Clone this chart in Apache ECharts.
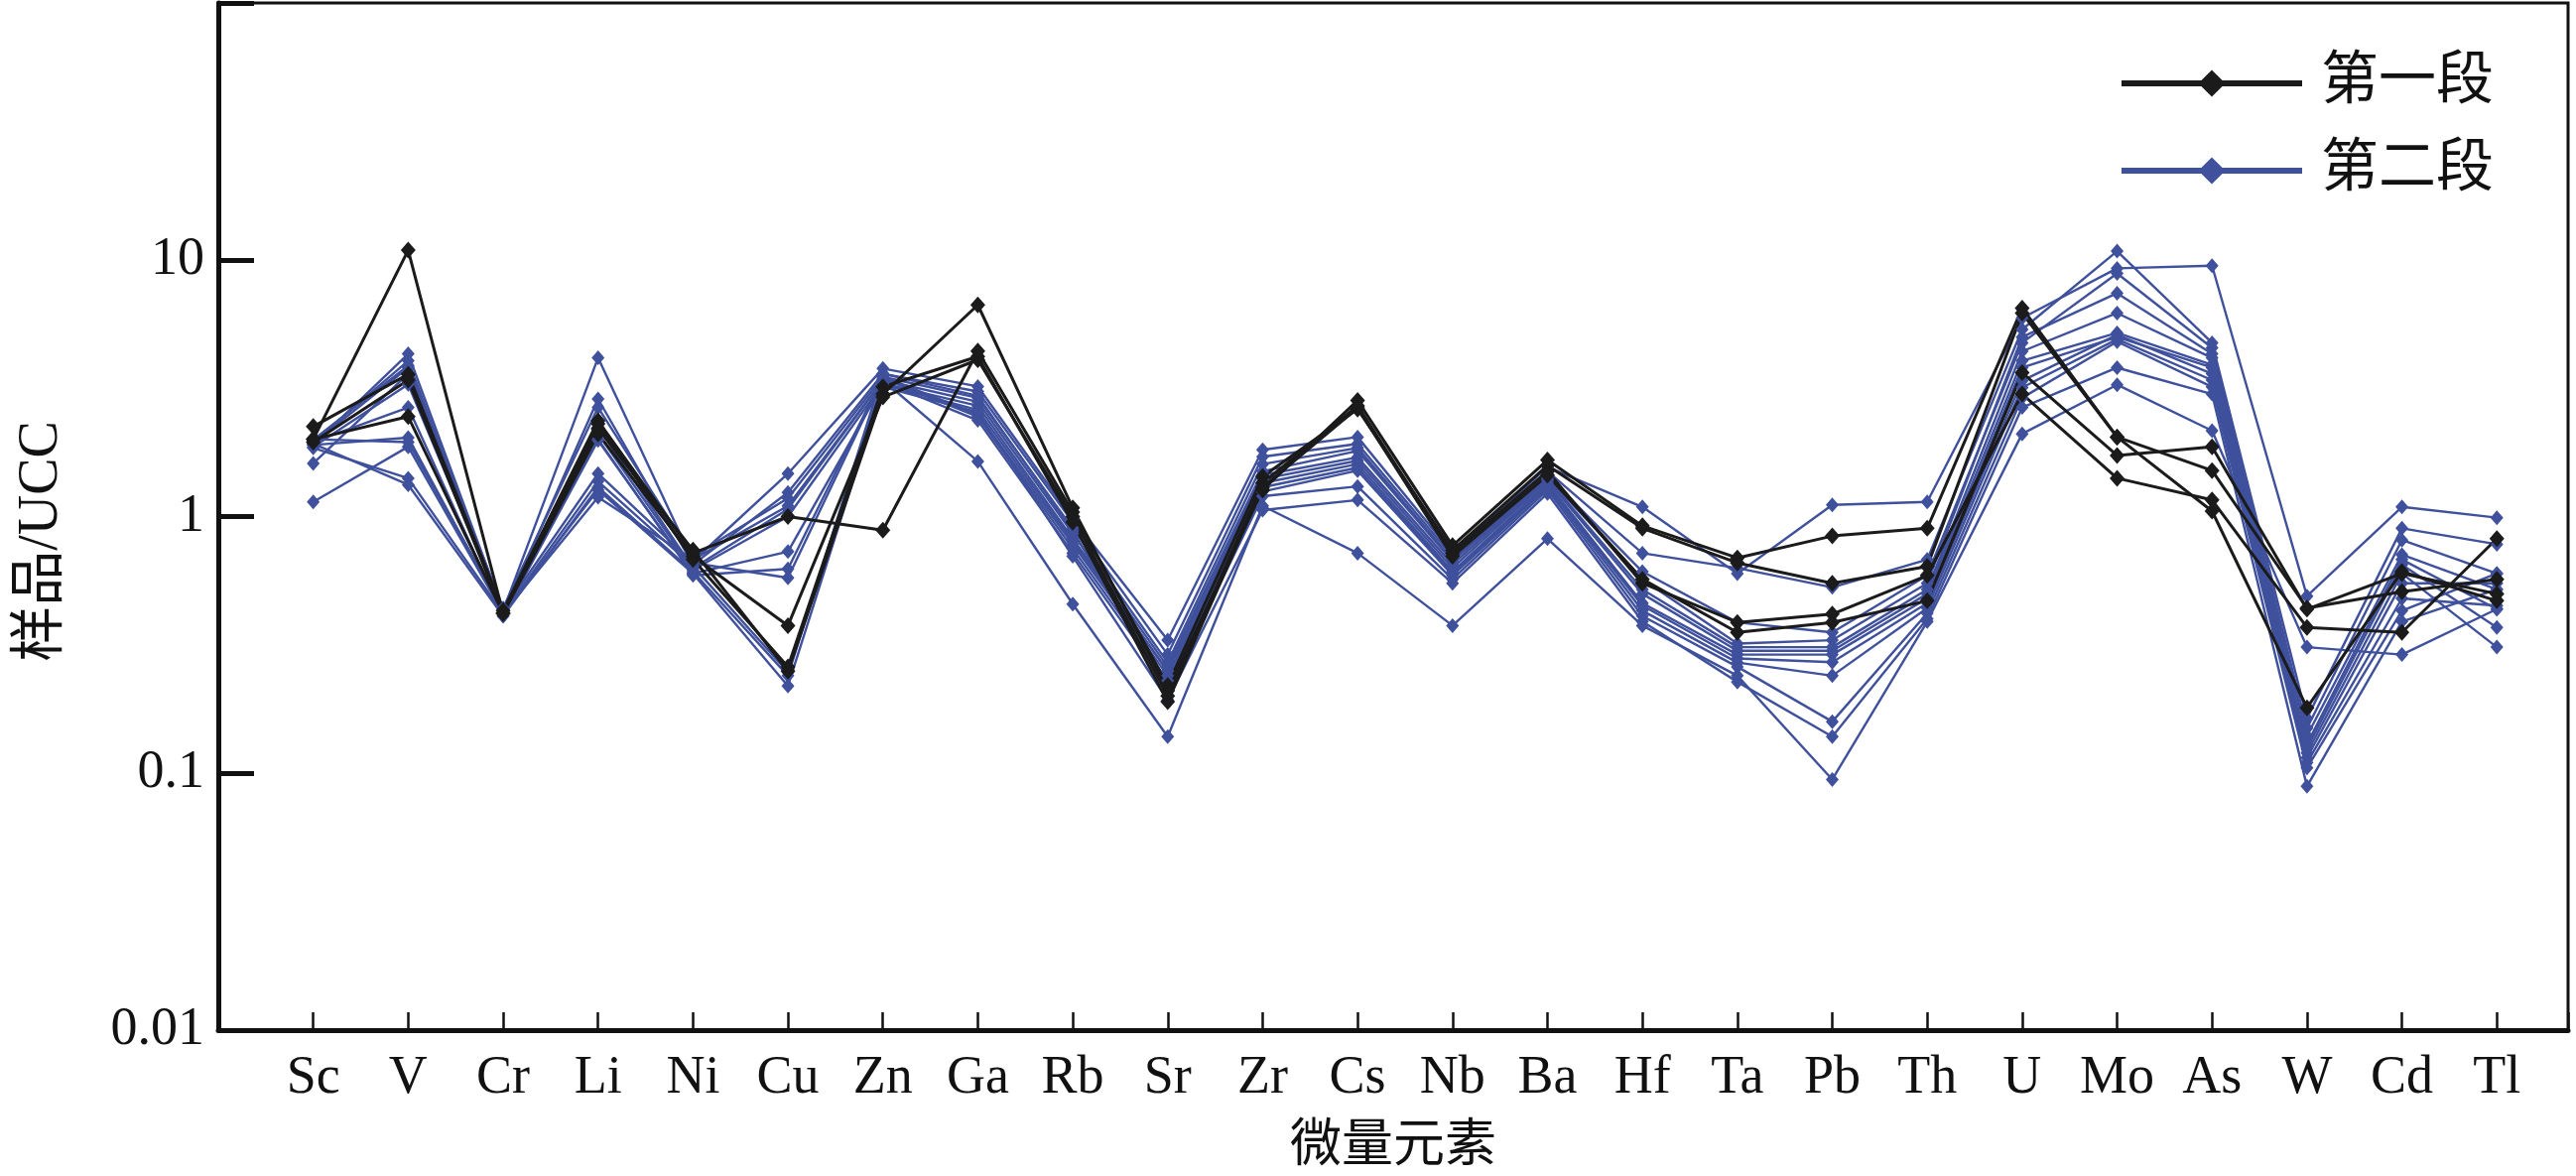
<!DOCTYPE html>
<html>
<head>
<meta charset="utf-8">
<title>微量元素 UCC 标准化</title>
<script src="https://cdn.jsdelivr.net/npm/echarts@6/dist/echarts.min.js"></script>
<style>
  html, body { margin: 0; padding: 0; background: #fff; }
  #chart { width: 2596px; height: 1185px; }
</style>
</head>
<body>
<div id="chart"></div>
<script>
// 元素（横轴）
var elements = ['Sc', 'V', 'Cr', 'Li', 'Ni', 'Cu', 'Zn', 'Ga', 'Rb', 'Sr', 'Zr', 'Cs',
                'Nb', 'Ba', 'Hf', 'Ta', 'Pb', 'Th', 'U', 'Mo', 'As', 'W', 'Cd', 'Tl'];
// 纵轴刻度
var yTicks = [0.01, 0.1, 1, 10];

// 第一段 样品/UCC
var seg1A = [2.0, 10.9, 0.42, 2.2, 0.74, 0.25, 3.0, 6.67, 1.08, 0.21, 1.27, 2.83, 0.77, 1.66, 0.92, 0.69, 0.84, 0.90, 6.48, 2.04, 1.51, 0.44, 0.51, 0.57];
var seg1B = [2.24, 3.58, 0.43, 2.36, 0.72, 1.0, 0.885, 4.41, 1.04, 0.22, 1.43, 2.62, 0.74, 1.58, 0.90, 0.66, 0.55, 0.64, 6.2, 2.04, 1.05, 0.18, 0.61, 0.47];
var seg1C = [2.0, 2.45, 0.42, 2.1, 0.70, 0.376, 2.92, 4.08, 1.0, 0.20, 1.35, 2.7, 0.72, 1.5, 0.55, 0.387, 0.417, 0.59, 3.0, 1.41, 1.16, 0.37, 0.354, 0.82];
var seg1D = [1.95, 3.4, 0.42, 2.3, 0.68, 0.26, 3.2, 4.2, 0.95, 0.19, 1.3, 2.65, 0.70, 1.45, 0.57, 0.354, 0.387, 0.47, 3.63, 1.73, 1.87, 0.436, 0.6, 0.5];

// 第二段 样品/UCC
var seg2A = [1.9, 4.3, 0.43, 4.15, 0.67, 1.47, 3.77, 3.21, 0.98, 0.33, 1.82, 2.04, 0.72, 1.56, 1.09, 0.60, 1.11, 1.14, 5.93, 9.26, 9.48, 0.49, 1.09, 0.99];
var seg2B = [1.95, 4.04, 0.42, 2.87, 0.65, 1.24, 3.6, 3.07, 0.95, 0.29, 1.71, 1.92, 0.70, 1.5, 0.72, 0.63, 0.53, 0.68, 5.35, 10.8, 4.75, 0.164, 0.90, 0.78];
var seg2C = [1.99, 3.87, 0.44, 2.66, 0.70, 1.18, 3.5, 2.9, 0.9, 0.27, 1.6, 1.85, 0.68, 1.45, 0.61, 0.387, 0.354, 0.59, 4.75, 8.85, 4.54, 0.15, 0.81, 0.60];
var seg2D = [1.93, 3.8, 0.42, 2.23, 0.63, 1.07, 3.4, 2.8, 0.86, 0.26, 1.5, 1.8, 0.67, 1.42, 0.57, 0.32, 0.33, 0.55, 5.0, 7.41, 4.3, 0.14, 0.71, 0.52];
var seg2E = [1.87, 3.27, 0.43, 2.1, 0.62, 1.0, 3.3, 2.7, 0.82, 0.25, 1.45, 1.7, 0.65, 1.4, 0.52, 0.31, 0.31, 0.52, 4.4, 6.2, 4.15, 0.13, 0.68, 0.436];
var seg2F = [1.95, 2.66, 0.41, 1.98, 0.60, 0.73, 3.27, 2.6, 0.8, 0.25, 1.4, 1.65, 0.63, 1.38, 0.5, 0.3, 0.3, 0.5, 4.04, 5.19, 3.9, 0.125, 0.65, 0.37];
var seg2G = [1.9, 2.03, 0.42, 2.0, 0.59, 0.625, 3.5, 2.5, 0.78, 0.24, 1.35, 1.6, 0.61, 1.35, 0.46, 0.29, 0.29, 0.48, 3.8, 5.0, 3.8, 0.12, 0.6, 0.31];
var seg2H = [2.0, 1.95, 0.43, 1.47, 0.66, 0.577, 3.45, 2.45, 0.75, 0.23, 1.3, 1.55, 0.6, 1.32, 0.45, 0.28, 0.271, 0.46, 3.38, 5.1, 3.6, 0.115, 0.55, 0.55];
var seg2I = [1.85, 1.41, 0.42, 1.37, 0.64, 0.248, 3.35, 2.37, 0.72, 0.22, 1.25, 1.51, 0.59, 1.3, 0.43, 0.27, 0.24, 0.44, 3.18, 4.9, 3.4, 0.11, 0.48, 0.45];
var seg2J = [1.92, 1.33, 0.41, 1.3, 0.61, 0.24, 3.6, 2.95, 0.88, 0.21, 1.2, 1.31, 0.57, 1.27, 0.41, 0.26, 0.159, 0.42, 2.9, 4.8, 3.2, 0.105, 0.43, 0.6];
var seg2K = [1.14, 1.87, 0.42, 1.27, 0.6, 0.219, 3.2, 2.55, 0.7, 0.193, 1.06, 1.16, 0.55, 1.23, 0.39, 0.227, 0.139, 0.4, 2.66, 3.8, 3.0, 0.089, 0.39, 0.52];
var seg2L = [1.61, 3.6, 0.42, 1.19, 0.68, 1.1, 3.4, 1.64, 0.456, 0.139, 1.1, 0.72, 0.376, 0.82, 0.376, 0.24, 0.0946, 0.39, 2.10, 3.26, 2.16, 0.31, 0.29, 0.436];

var seg1 = [seg1A, seg1B, seg1C, seg1D];
var seg2 = [seg2A, seg2B, seg2C, seg2D, seg2E, seg2F, seg2G, seg2H, seg2I, seg2J, seg2K, seg2L];

var black = '#1b1b1b';
var blue = '#3f509c';
var serif = '"Liberation Serif", "Times New Roman", "Noto Sans CJK SC", serif';

// 把数组转成 [序号, 值] 点对
function toPoints(arr) {
    return arr.map(function (v, i) { return [i + 1, v]; });
}

function makeSeries(name, arr, color, width, size) {
    return {
        name: name,
        type: 'line',
        data: toPoints(arr),
        symbol: 'diamond',
        symbolSize: size,
        showSymbol: true,
        lineStyle: { color: color, width: width },
        itemStyle: { color: color },
        emphasis: { disabled: true },
        animation: false
    };
}

var series = [];
seg2.forEach(function (arr) { series.push(makeSeries('第二段', arr, blue, 2.4, [13, 15])); });
seg1.forEach(function (arr) { series.push(makeSeries('第一段', arr, black, 3, [15, 17])); });

var chart = echarts.init(document.getElementById('chart'));
chart.setOption({
    backgroundColor: '#fff',
    animation: false,
    grid: {
        left: 220, right: 8, top: 3, bottom: 147,
        outerBoundsMode: 'none',
        show: true, borderColor: '#111', borderWidth: 3
    },
    legend: {
        data: ['第一段', '第二段'],
        orient: 'vertical',
        right: 78,
        top: 50,
        itemWidth: 182,
        itemHeight: 34,
        itemGap: 30,
        lineStyle: { width: 6 },
        textStyle: { fontFamily: serif, fontSize: 58, color: '#111', padding: [0, 0, 0, 14] }
    },
    xAxis: {
        type: 'value',
        min: 0,
        max: 24.75,
        interval: 1,
        name: '微量元素',
        nameLocation: 'middle',
        nameGap: 92,
        nameTextStyle: { fontFamily: serif, fontSize: 52, color: '#111' },
        axisLine: { onZero: false, lineStyle: { color: '#111', width: 5 } },
        axisTick: { inside: true, length: 18, lineStyle: { color: '#111', width: 2.5 } },
        axisLabel: {
            margin: 22,
            fontFamily: serif,
            fontSize: 54,
            color: '#111',
            formatter: function (v) {
                return (Number.isInteger(v) && v >= 1 && v <= elements.length) ? elements[v - 1] : '';
            }
        },
        splitLine: { show: false }
    },
    yAxis: {
        type: 'log',
        logBase: 10,
        min: 0.01,
        max: 100,
        name: '样品/UCC',
        nameLocation: 'middle',
        nameGap: 150,
        nameTextStyle: { fontFamily: serif, fontSize: 56, color: '#111', padding: [0, 50, 0, 0] },
        axisLine: { lineStyle: { color: '#111', width: 5 } },
        axisTick: { inside: true, length: 36, lineStyle: { color: '#111', width: 5 } },
        axisLabel: {
            margin: 14,
            fontFamily: serif,
            fontSize: 54,
            color: '#111',
            formatter: function (v) {
                for (var i = 0; i < yTicks.length; i++) {
                    if (Math.abs(v - yTicks[i]) < yTicks[i] * 1e-6) return String(yTicks[i]);
                }
                return '';
            }
        },
        splitLine: { show: false }
    },
    series: series
});
</script>
</body>
</html>
